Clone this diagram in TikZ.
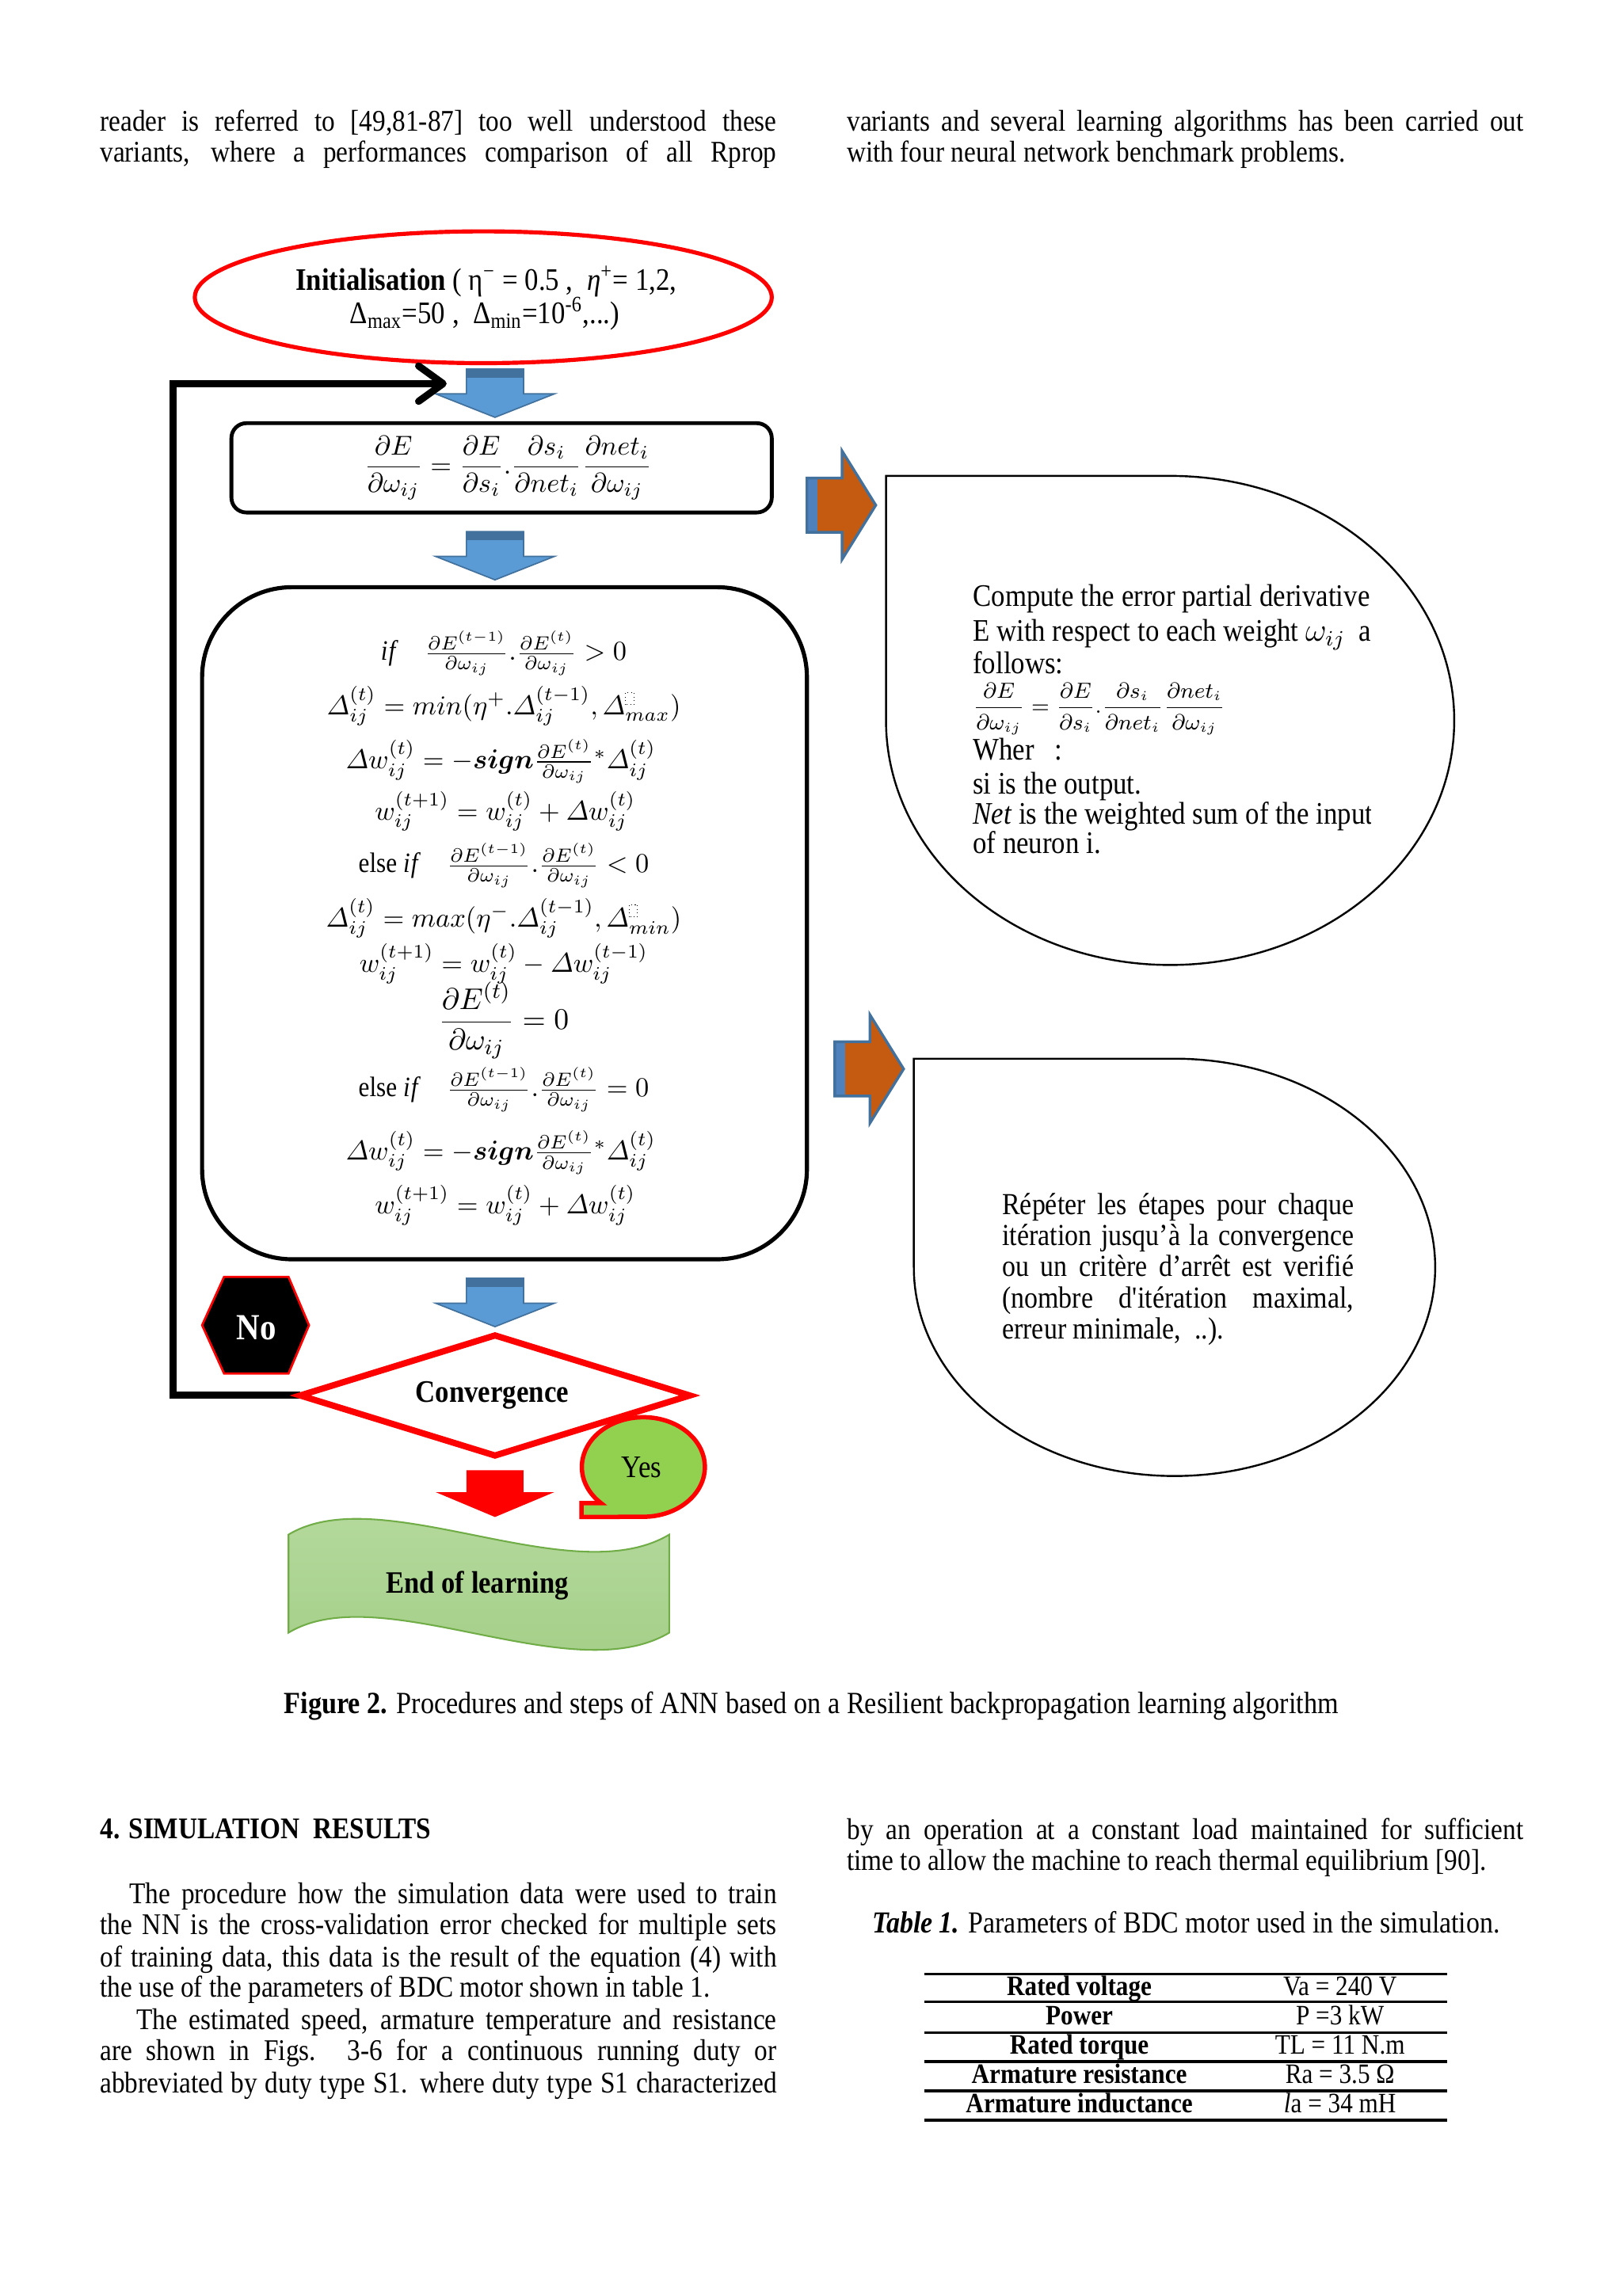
\documentclass[tikz,border=0pt]{standalone}
\usepackage{amsmath}
\usepackage{fontspec}
\setmainfont{Liberation Serif}[FakeStretch=0.88]
\usetikzlibrary{arrows.meta}
\definecolor{abl}{HTML}{5B9BD5}
\definecolor{abld}{HTML}{41719C}
\definecolor{abls}{HTML}{4F81BD}
\definecolor{aor}{HTML}{C55A11}
\definecolor{ayes}{HTML}{92D050}
\definecolor{awave}{HTML}{70AD47}
\definecolor{awtop}{HTML}{B7DBA0}
\definecolor{awbot}{HTML}{A2CD85}
\definecolor{ared}{HTML}{FF0000}
\newcommand\dotsq{\tikz[baseline=0pt]\draw[densely dotted,line width=0.3pt] (0pt,0pt) rectangle (3pt,4.5pt);}
\newcommand\jl[2]{\makebox[#1][s]{#2}}
\tikzset{
 body/.style={inner sep=0pt,anchor=base west,font=\fontsize{11}{13}\selectfont},
 bub/.style={inner sep=0pt,anchor=base west,font=\fontsize{11.5}{14}\selectfont},
 bubb/.style={inner sep=0pt,anchor=base west,font=\fontsize{11.2}{13}\selectfont},
 mline/.style={inner sep=0pt,anchor=base,font=\fontsize{10.3}{12}\selectfont},
 ctr/.style={inner sep=0pt,anchor=base},
 tabh/.style={inner sep=0pt,anchor=base,font=\fontsize{10.3}{12}\selectfont\bfseries},
 tabv/.style={inner sep=0pt,anchor=base,font=\fontsize{10.3}{12}\selectfont},
 pics/bluedown/.style={code={
   \path[fill=abl,draw=abld,line width=0.5pt] (-19.5,0) -- (19.5,0) -- (19.5,17) -- (40.5,17) -- (0,33) -- (-40.5,17) -- (-19.5,17) -- cycle;
   \fill[abld] (-19.5,0) rectangle (19.5,6);
 }},
 pics/reddown/.style={code={
   \path[fill=ared] (-19.5,0) -- (19.5,0) -- (19.5,15) -- (40.5,15) -- (0,32) -- (-40.5,15) -- (-19.5,15) -- cycle;
 }},
 pics/orangeright/.style={code={
   \path[fill=aor] (0,-18.5) -- (24,-18.5) -- (24,-37) -- (47,0) -- (24,37) -- (24,18.5) -- (0,18.5) -- cycle;
   \fill[abls] (0,-18.5) rectangle (7,18.5);
   \draw[abld,line width=1pt] (0,-18.5) -- (24,-18.5) -- (24,-37) -- (47,0) -- (24,37) -- (24,18.5) -- (0,18.5) -- cycle;
 }}
}
\begin{document}
\begin{tikzpicture}[x=0.537pt,y=-0.537pt]
\useasboundingbox (0,0) rectangle (1108,1568);
\fill[white] (0,0) rectangle (1108,1568);

% ---------- top text
\node[body] (tl1) at (68,89.5) {\jl{248.1pt}{reader is referred to [49,81-87] too well understood these}};
\node[body] (tl2) at (68,110.5) {\jl{248.1pt}{variants, where a performances comparison of all Rprop}};
\node[body] (tr1) at (578,89.5) {\jl{248.1pt}{variants and several learning algorithms has been carried out}};
\node[body] (tr2) at (578,110.5) {with four neural network benchmark problems.};

% ---------- initialisation ellipse
\draw[ared,line width=1.5pt] (330,203) ellipse[x radius=197,y radius=45];
\node[ctr,font=\fontsize{11.5}{13}\selectfont] (init1) at (332,198) {\textbf{Initialisation} ( η\textsuperscript{−} = 0.5 ,\ \ \textit{η}\textsuperscript{+}= 1,2,};
\node[ctr,font=\fontsize{11.5}{13}\selectfont] (init2) at (331,221) {Δ\textsubscript{max}=50 ,\ \ Δ\textsubscript{min}=10\textsuperscript{-6},...)};

% ---------- down arrows
\pic (ba1) at (338,252) {bluedown};
\pic (ba2) at (338,363) {bluedown};
\pic (ba3) at (338,873) {bluedown};
\pic (ra1) at (338,1004) {reddown};

% ---------- box 1
\draw[line width=1.4pt,rounded corners=5.5pt] (158,289) rectangle (527,350);
\node[ctr,font=\fontsize{10.2}{12}\selectfont] (eq1) at (347,323.5) {$\displaystyle \frac{\partial E}{\partial\omega_{ij}}=\frac{\partial E}{\partial s_i}.\frac{\partial s_i}{\partial net_i}\frac{\partial net_i}{\partial\omega_{ij}}$};

% ---------- big box
\draw[line width=1.5pt,rounded corners=33pt] (138,401) rectangle (551,860);
\node[mline] (m1) at (344,451) {$\mathit{if}\quad \frac{\partial E^{(t-1)}}{\partial\omega_{ij}}.\frac{\partial E^{(t)}}{\partial\omega_{ij}}>0$};
\node[mline] (m2) at (344,488) {$\varDelta_{ij}^{(t)}=min(\eta^{+}.\varDelta_{ij}^{(t-1)},\varDelta_{max}^{\dotsq})$};
\node[mline] (m3) at (342,525) {$\varDelta w_{ij}^{(t)}=-\boldsymbol{sign}\frac{\partial E^{(t)}}{\partial\omega_{ij}}{}^{*}\varDelta_{ij}^{(t)}$};
\node[mline] (m4) at (345,560) {$w_{ij}^{(t+1)}=w_{ij}^{(t)}+\varDelta w_{ij}^{(t)}$};
\node[mline] (m5) at (344,596) {$\text{else }\mathit{if}\quad \frac{\partial E^{(t-1)}}{\partial\omega_{ij}}.\frac{\partial E^{(t)}}{\partial\omega_{ij}}<0$};
\node[mline] (m6) at (344,633) {$\varDelta_{ij}^{(t)}=max(\eta^{-}.\varDelta_{ij}^{(t-1)},\varDelta_{min}^{\dotsq})$};
\node[mline] (m7) at (344,664) {$w_{ij}^{(t+1)}=w_{ij}^{(t)}-\varDelta w_{ij}^{(t-1)}$};
\node[mline,font=\fontsize{11}{13}\selectfont] (m8) at (344,703) {$\dfrac{\partial E^{(t)}}{\partial\omega_{ij}}=0$};
\node[mline] (m9) at (344,749) {$\text{else }\mathit{if}\quad \frac{\partial E^{(t-1)}}{\partial\omega_{ij}}.\frac{\partial E^{(t)}}{\partial\omega_{ij}}=0$};
\node[mline] (m10) at (342,792) {$\varDelta w_{ij}^{(t)}=-\boldsymbol{sign}\frac{\partial E^{(t)}}{\partial\omega_{ij}}{}^{*}\varDelta_{ij}^{(t)}$};
\node[mline] (m11) at (345,829) {$w_{ij}^{(t+1)}=w_{ij}^{(t)}+\varDelta w_{ij}^{(t)}$};

% ---------- right arrows and bubbles
\pic (oa1) at (551,345) {orangeright};
\pic (oa2) at (570,730) {orangeright};
\draw[line width=0.7pt] (605,325) -- (799,325) arc[start angle=-90,end angle=180,x radius=194,y radius=167] -- cycle;
\draw[line width=0.7pt] (624,723) -- (802,723) arc[start angle=-90,end angle=180,x radius=178,y radius=142.5] -- cycle;

\begin{scope}
\clip (600,380) rectangle (936,600);
\node[bub] (c1) at (664,414) {Compute the error partial derivative};
\node[bub] (c2) at (664,438) {E with respect to each weight~$\omega_{ij}$\ \ as};
\node[bub] (c3) at (664,460) {follows:};
\node[bub,font=\fontsize{7.7}{9}\selectfont] (c4) at (664,487) {$\dfrac{\partial E}{\partial\omega_{ij}}=\dfrac{\partial E}{\partial s_i}.\dfrac{\partial s_i}{\partial net_i}\dfrac{\partial net_i}{\partial\omega_{ij}}$};
\node[bub] (c5) at (664,519) {Wher\ \ \ :};
\node[bub] (c6) at (664,542) {si is the output.};
\node[bub] (c7) at (664,563) {\textit{Net} is the weighted sum of the inputs};
\node[bub] (c8) at (664,583) {of neuron i.};
\end{scope}

\node[bubb] (q1) at (684,829.5) {\jl{128.9pt}{Répéter les étapes pour chaque}};
\node[bubb] (q2) at (684,850.5) {\jl{128.9pt}{itération jusqu’à la convergence}};
\node[bubb] (q3) at (684,871.5) {\jl{128.9pt}{ou un critère d’arrêt est verifié}};
\node[bubb] (q4) at (684,893.5) {\jl{128.9pt}{(nombre d\textquotesingle itération maximal,}};
\node[bubb] (q5) at (684,914.5) {erreur minimale,\ \ ..).};

% ---------- feedback loop
\coordinate (convL) at (205,953);
\coordinate (loopEnd) at (305,262);
\draw[line width=2.6pt,-{Straight Barb[length=9pt,width=13pt,round]}] (convL) -- (118,953) -- (118,262) -- (loopEnd);

% ---------- No hexagon
\draw[ared,line width=0.8pt,fill=black] (138,905) -- (153,872) -- (197,872) -- (211,905) -- (197,938) -- (153,938) -- cycle;
\node[ctr,anchor=center,text=white,font=\fontsize{13.5}{15}\selectfont\bfseries] (no) at (175,907) {No};

% ---------- convergence diamond
\draw[ared,line width=2.3pt,fill=white] (convL) -- (338,912) -- (471,953) -- (338,994) -- cycle;
\node[ctr,anchor=center,font=\fontsize{11.5}{13}\selectfont\bfseries] (conv) at (336,953) {Convergence};

% ---------- yes bubble
\draw[ared,line width=1.6pt,fill=ayes] (397,1036) -- (397,1026.5) -- (410.4,1026.5) arc[start angle=133.5,end angle=450,x radius=42,y radius=34] -- cycle;
\node[ctr,anchor=center,font=\fontsize{11.5}{13}\selectfont] (yes) at (438,1002) {Yes};

% ---------- end of learning wave
\path[top color=awtop,bottom color=awbot,draw=awave,line width=0.6pt] (197,1048) .. controls (260,1010) and (390,1088) .. (457,1048) -- (457,1115) .. controls (390,1155) and (260,1077) .. (197,1115) -- cycle;
\node[ctr,anchor=center,font=\fontsize{11.4}{13}\selectfont\bfseries] (eol) at (326,1083) {End of learning};

% ---------- caption
\node[ctr,font=\fontsize{11.3}{13}\selectfont] (cap) at (554,1170) {\textbf{Figure 2.} Procedures and steps of ANN based on a Resilient backpropagation learning algorithm};

% ---------- section text
\node[body,font=\fontsize{11}{13}\selectfont\bfseries] (sec) at (68,1255.5) {4. SIMULATION\ \ RESULTS};
\node[body] (p1) at (88,1300) {\jl{237.4pt}{The procedure how the simulation data were used to train}};
\node[body] (p2) at (68,1321) {\jl{248.1pt}{the NN is the cross-validation error checked for multiple sets}};
\node[body] (p3) at (68,1343) {\jl{248.1pt}{of training data, this data is the result of the equation (4) with}};
\node[body] (p4) at (68,1364) {the use of the parameters of BDC motor shown in table 1.};
\node[body] (p5) at (93,1386) {\jl{234.7pt}{The estimated speed, armature temperature and resistance}};
\node[body] (p6) at (68,1407) {\jl{248.1pt}{are shown in Figs. 3-6 for a continuous running duty or}};
\node[body] (p7) at (68,1429) {\jl{248.1pt}{abbreviated by duty type S1. where duty type S1 characterized}};
\node[body] (s1) at (578,1256) {\jl{248.1pt}{by an operation at a constant load maintained for sufficient}};
\node[body] (s2) at (578,1277) {time to allow the machine to reach thermal equilibrium [90].};

% ---------- table
\node[ctr,font=\fontsize{11.2}{13}\selectfont] (tcap) at (810,1320) {\textbf{\textit{Table 1.}} Parameters of BDC motor used in the simulation.};
\foreach \yy in {1348,1367,1388,1408,1428,1448} \draw[line width=1pt] (631,\yy) -- (988,\yy);
\node[tabh] (ra) at (737,1362.5) {Rated voltage};
\node[tabv] (rb) at (915,1362.5) {Va = 240 V};
\node[tabh] (pa) at (737,1383) {Power};
\node[tabv] (pb) at (915,1383) {P =3 kW};
\node[tabh] (ta) at (737,1403) {Rated torque};
\node[tabv] (tb) at (915,1403) {TL = 11 N.m};
\node[tabh] (aa) at (737,1423) {Armature resistance};
\node[tabv] (ab) at (915,1423) {Ra = 3.5 Ω};
\node[tabh] (ia) at (737,1443) {Armature inductance};
\node[tabv] (ib) at (915,1443) {\textit{l}a = 34 mH};
\end{tikzpicture}
\end{document}
